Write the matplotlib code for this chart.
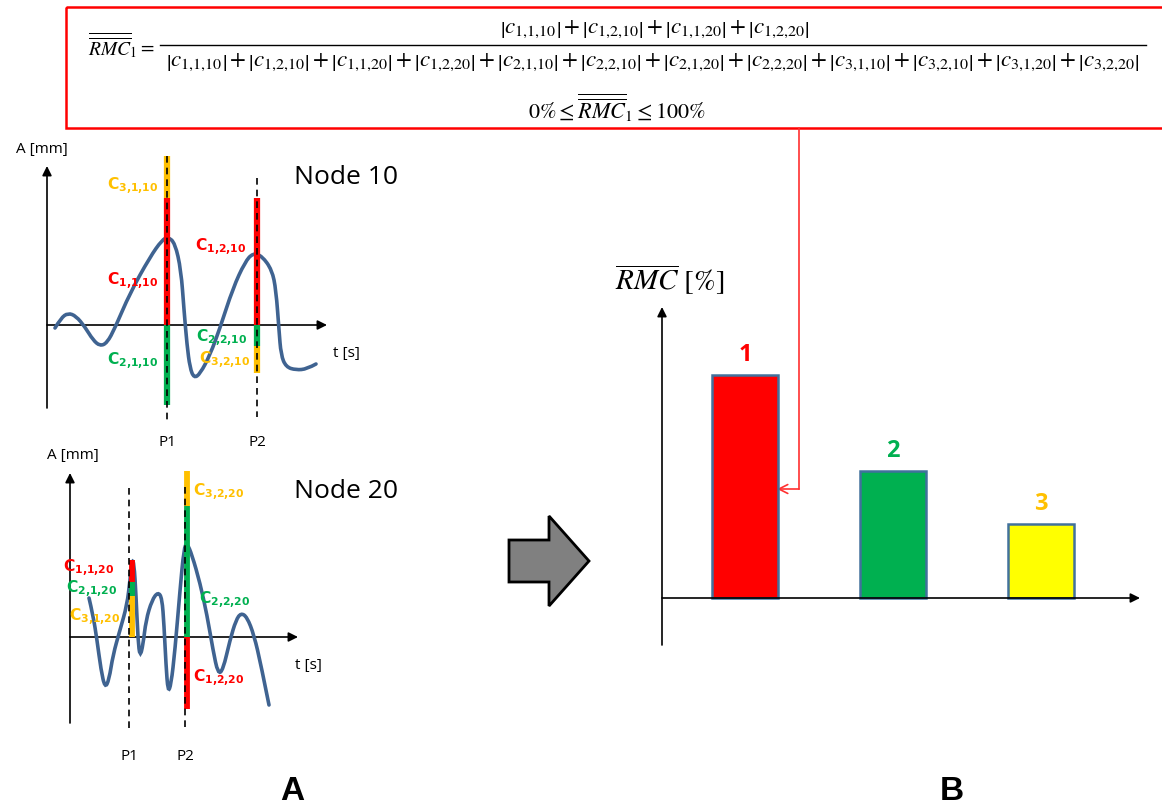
import matplotlib
matplotlib.use("Agg")
import matplotlib.pyplot as plt
import matplotlib.patches as mpatches
from matplotlib.path import Path

# ---------------- data ----------------
# Node 10 response curve (t [s], A [mm])
n10_t = [0.8, 1.4, 2.1, 2.9, 3.8, 4.6, 5.3, 6.0, 6.8, 8.3, 10.3, 11.5, 12.1, 12.8, 13.4, 13.7,
         14.0, 14.3, 14.7, 15.3, 16.3, 17.3, 18.6, 19.8, 20.6, 21.5, 22.5, 22.9, 23.2, 23.4,
         23.9, 24.9, 26.0, 26.9]
n10_A = [-0.3, 0.7, 1.2, 0.9, -0.2, -1.5, -2.1, -1.8, -0.3, 3.2, 6.8, 8.5, 8.8, 8.2, 5.5, 1.5,
         -2.0, -4.3, -5.3, -4.9, -3.0, -0.3, 3.7, 6.3, 7.2, 6.9, 5.5, 3.5, -0.5, -3.0,
         -4.2, -4.5, -4.4, -3.9]
# Node 20 response curve
n20_t = [1.9, 2.3, 2.7, 3.1, 3.5, 3.9, 4.3, 5.0, 5.7, 6.0, 6.2, 6.4, 6.6, 6.8, 7.0, 7.3, 7.6,
         8.2, 8.8, 9.2, 9.4, 9.6, 9.8, 10.1, 10.5, 11.0, 11.4, 11.7, 12.2, 13.0, 13.7, 14.3,
         14.8, 15.3, 16.0, 16.6, 17.1, 17.7, 18.4, 19.1, 19.9]
n20_A = [3.9, 2.2, -0.3, -3.3, -5.1, -4.3, -1.8, 0.7, 3.2, 5.7, 7.7, 7.4, 4.2, -0.3, -2.0, -0.8, 1.7,
         3.7, 4.5, 3.9, 1.2, -2.8, -5.5, -4.8, -1.3, 4.7, 8.9, 9.4, 8.2, 5.4, 2.2, -1.3,
         -3.7, -3.3, -0.3, 1.7, 2.4, 2.0, 0.2, -2.8, -6.8]

# peak positions (t) and contribution segments (start A, end A) per mode
n10_peak_t = [12.0, 21.0]
n10_seg = {  # mode: [(P1 from,to), (P2 from,to)]
    1: [(0.0, 12.7), (0.0, 12.7)],
    2: [(0.0, -8.0), (0.0, -2.1)],
    3: [(12.7, 16.9), (-2.1, -4.8)],
}
n10_dash = [(16.9, -9.5), (14.7, -9.2)]
n20_bar_t = [6.2, 11.7]
n20_dash_t = [5.9, 11.5]
n20_seg = {
    1: [(7.7, 5.5), (0.0, -7.2)],
    2: [(5.5, 4.1), (13.1, 0.0)],
    3: [(4.1, 0.0), (16.6, 13.1)],
}
n20_dash = [(14.9, -9.3), (15.0, -9.1)]

# C labels: (indices, t, A, mode)
n10_labels = [("3,1,10", 8.6, 13.9, 3), ("1,1,10", 8.6, 4.4, 1), ("2,1,10", 8.6, -3.6, 2),
              ("1,2,10", 17.4, 7.8, 1), ("2,2,10", 17.5, -1.3, 2), ("3,2,10", 17.8, -3.5, 3)]
n20_labels = [("1,1,20", 1.85, 6.9, 1), ("2,1,20", 2.15, 4.8, 2), ("3,1,20", 2.45, 2.0, 3),
              ("3,2,20", 14.9, 14.5, 3), ("2,2,20", 15.45, 3.7, 2), ("1,2,20", 14.9, -4.1, 1)]

modes = [1, 2, 3]
rmc = [52.0, 29.6, 17.3]          # RMC_bar [%]
bar_colors = ["#FF0000", "#00B050", "#FFFF00"]
mode_colors = {1: "#FF0000", 2: "#00B050", 3: "#FFC000"}
curve_color = "#3F6391"

W, H = 1162, 807
fig = plt.figure(figsize=(W / 100, H / 100), dpi=100)

def px_axes(l, t, r, b):
    return fig.add_axes([l / W, 1 - b / H, (r - l) / W, (b - t) / H])

# overlay (pixel coordinates) for decorations
ov = fig.add_axes([0, 0, 1, 1])
ov.set_xlim(0, W); ov.set_ylim(H, 0); ov.axis("off")

def smooth_path(x, y):
    verts = [(x[0], y[0])]
    codes = [Path.MOVETO]
    n = len(x)
    for i in range(1, n - 1):
        verts.append((x[i], y[i])); codes.append(Path.CURVE3)
        if i < n - 2:
            verts.append(((x[i] + x[i + 1]) / 2, (y[i] + y[i + 1]) / 2))
        else:
            verts.append((x[n - 1], y[n - 1]))
        codes.append(Path.CURVE3)
    return Path(verts, codes)

def axis_arrow(ax, xy, xytext):
    ax.annotate("", xy=xy, xytext=xytext,
                arrowprops=dict(arrowstyle="-|>", color="black", lw=1.2,
                                mutation_scale=14, shrinkA=0, shrinkB=0))

def tight(s):
    return s.replace(",", "{,}")

def clabel(ax, s, x, y, m):
    ax.text(x, y, r"$\mathbf{C}_{\mathbf{%s}}$" % tight(s), color=mode_colors[m], fontsize=11.2,
            ha="center", va="center", math_fontfamily="dejavusans")

# ---------------- Node 10 ----------------
a1 = px_axes(0, 140, 360, 450)
a1.set_xlim(-4.7, 31.3); a1.set_ylim(-12.5, 18.5); a1.axis("off")
axis_arrow(a1, (0, 15.9), (0, -8.3))
axis_arrow(a1, (28.0, 0), (0, 0))
a1.add_patch(mpatches.PathPatch(smooth_path(n10_t, n10_A), fc="none", ec=curve_color, lw=2.6,
                                capstyle="round", zorder=3))
for m in modes:
    for j, tp in enumerate(n10_peak_t):
        s, e = n10_seg[m][j]
        a1.plot([tp, tp], [s, e], color=mode_colors[m], lw=4.5, solid_capstyle="butt", zorder=4)
for j, tp in enumerate(n10_peak_t):
    a1.plot([tp, tp], list(n10_dash[j]), color="black", lw=1.2, ls=(0, (4, 3)), zorder=5)
    a1.text(tp, -11.7, "P%d" % (j + 1), fontsize=11, ha="center", va="center",
            family="Open Sans")
for s, x, y, m in n10_labels:
    clabel(a1, s, x, y, m)
a1.text(-3.1, 17.5, "A [mm]", fontsize=11, ha="left", va="center", family="Open Sans")
a1.text(28.6, -2.8, "t [s]", fontsize=11, ha="left", va="center", family="Open Sans")
a1.text(24.7, 14.7, "Node 10", fontsize=19, ha="left", va="center", family="Open Sans")

# ---------------- Node 20 ----------------
a2 = px_axes(0, 460, 340, 770)
a2.set_xlim(-7.0, 27.0); a2.set_ylim(-13.3, 17.7); a2.axis("off")
axis_arrow(a2, (0, 16.4), (0, -8.6))
axis_arrow(a2, (22.8, 0), (0, 0))
a2.add_patch(mpatches.PathPatch(smooth_path(n20_t, n20_A), fc="none", ec=curve_color, lw=2.6,
                                capstyle="round", zorder=3))
for m in modes:
    for j, tp in enumerate(n20_bar_t):
        s, e = n20_seg[m][j]
        a2.plot([tp, tp], [s, e], color=mode_colors[m], lw=4.2, solid_capstyle="butt", zorder=4)
for j, tp in enumerate(n20_dash_t):
    a2.plot([tp, tp], list(n20_dash[j]), color="black", lw=1.2, ls=(0, (4, 3)), zorder=5)
    a2.text(tp, -12.0, "P%d" % (j + 1), fontsize=11, ha="center", va="center",
            family="Open Sans")
for s, x, y, m in n20_labels:
    clabel(a2, s, x, y, m)
a2.text(-2.3, 18.2, "A [mm]", fontsize=11, ha="left", va="center", family="Open Sans")
a2.text(22.5, -2.8, "t [s]", fontsize=11, ha="left", va="center", family="Open Sans")
a2.text(22.4, 14.5, "Node 20", fontsize=19, ha="left", va="center", family="Open Sans")

# ---------------- Bar chart B ----------------
a3 = px_axes(600, 260, 1160, 660)
k = 4.288
a3.set_xlim(1 + (600 - 745) / 148, 1 + (1160 - 745) / 148)
a3.set_ylim(-(660 - 598) / k, (598 - 260) / k)
a3.axis("off")
a3.bar(modes, rmc, width=0.44, color=bar_colors, edgecolor="#41719C", linewidth=1.8, zorder=3)
x0 = 1 + (662 - 745) / 148
axis_arrow(a3, (x0, (598 - 307) / k), (x0, -(645 - 598) / k))
axis_arrow(a3, (1 + (1140 - 745) / 148, 0), (x0, 0))
for m, v in zip(modes, rmc):
    a3.text(m, v + 4.6, str(m), color=mode_colors[m], fontsize=17, fontweight="bold",
            ha="center", va="center", family="Open Sans")
a3.text(x0 - 0.32, (598 - 279) / k, r"$\overline{RMC}\ [\%]$", fontsize=21, ha="left",
        va="center", math_fontfamily="stix")

# ---------------- formula box ----------------
ov.add_patch(mpatches.Rectangle((66, 7), 1110, 121, fc="none", ec="#FF0000", lw=1.8))
num_terms = ["1,1,10", "1,2,10", "1,1,20", "1,2,20"]
den_terms = ["1,1,10", "1,2,10", "1,1,20", "1,2,20", "2,1,10", "2,2,10", "2,1,20", "2,2,20",
             "3,1,10", "3,2,10", "3,1,20", "3,2,20"]
num = "$" + " + ".join(r"\left|c_{%s}\right|" % tight(s) for s in num_terms) + "$"
den = "$" + " + ".join(r"\left|c_{%s}\right|" % tight(s) for s in den_terms) + "$"
ov.text(88, 45, r"$\overline{\overline{RMC}}_1 =$", fontsize=14, ha="left", va="center",
        math_fontfamily="stix")
ov.text(655, 29, num, fontsize=16.6, ha="center", va="center", math_fontfamily="stix")
ov.text(653, 62, den, fontsize=16.6, ha="center", va="center", math_fontfamily="stix")
ov.plot([160, 1146], [45, 45], color="black", lw=1.0)
ov.text(617, 107, r"$0\% \leq \overline{\overline{RMC}}_1 \leq 100\%$", fontsize=16,
        ha="center", va="center", math_fontfamily="stix")

# connector
ov.plot([799, 799], [128, 489], color="#FF3030", lw=1.2)
ov.annotate("", xy=(777, 489), xytext=(799, 489),
            arrowprops=dict(arrowstyle="->", color="#FF3030", lw=1.2, mutation_scale=16,
                            shrinkA=0, shrinkB=0))

# grey block arrow
ov.add_patch(mpatches.FancyArrow(509, 561, 80, 0, width=42, head_width=90, head_length=40,
                                 length_includes_head=True, fc="#808080", ec="black", lw=2))

# panel letters
ov.text(292, 792, "A", fontsize=24, fontweight="bold", ha="center", va="center",
        family="Liberation Sans")
ov.text(952, 792, "B", fontsize=24, fontweight="bold", ha="center", va="center",
        family="Liberation Sans")

fig.savefig("out.png", dpi=100)
